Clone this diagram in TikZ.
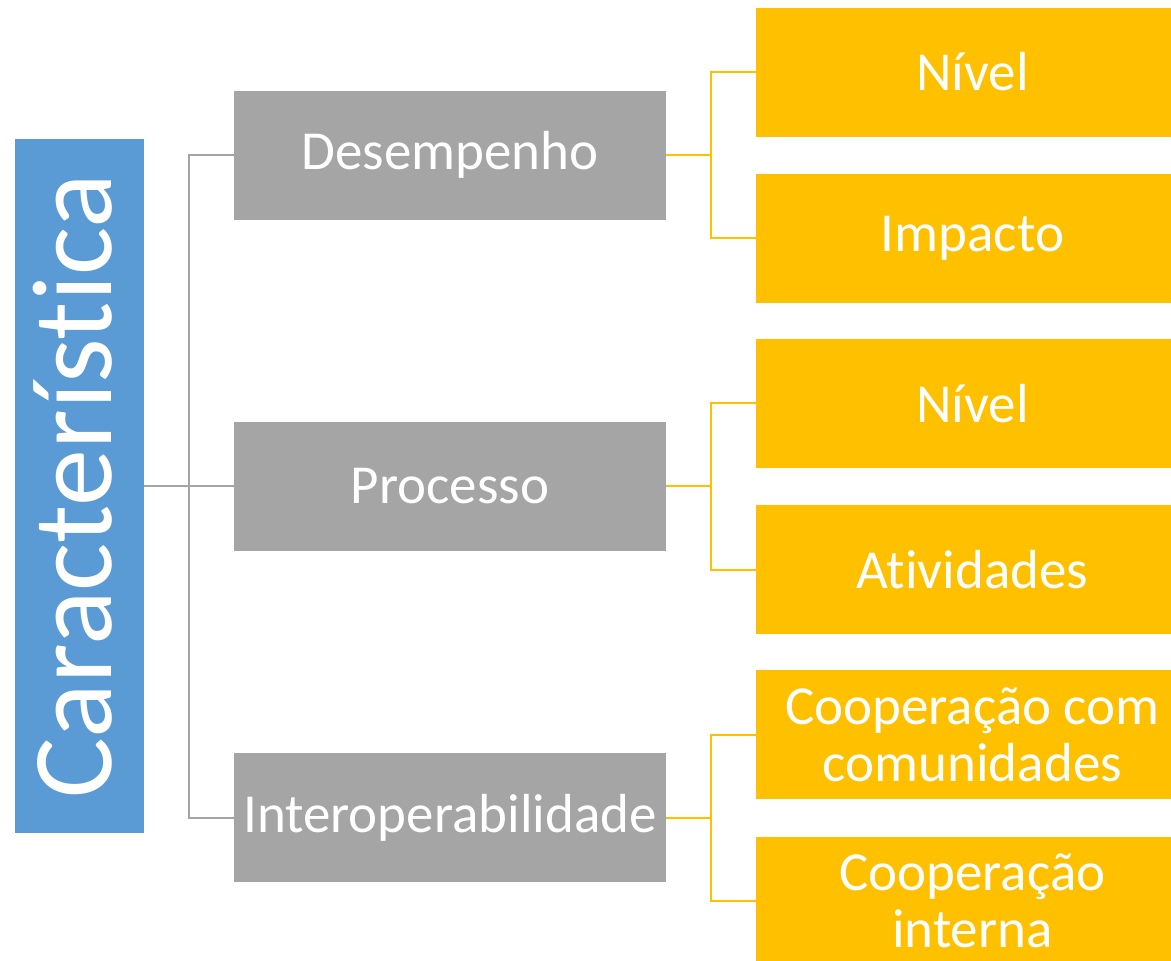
\documentclass[tikz,border=0pt]{standalone}
\usepackage{fontspec}
\setmainfont{Carlito}[Ligatures=NoCommon]
\usetikzlibrary{positioning}
\definecolor{chartblue}{HTML}{5B9BD5}
\definecolor{chartgray}{HTML}{A5A5A5}
\definecolor{chartgold}{HTML}{FFC000}

\begin{document}
\begin{tikzpicture}[
            x=1pt, y=-1pt,
            node distance=37pt and 90pt,
            % Styles
            mainbox/.style={rectangle, fill=chartblue, text=white, inner sep=0pt, minimum width=129pt, minimum height=694pt, font=\fontsize{114}{136}\selectfont},
            topic/.style={rectangle, fill=chartgray, text=white, inner sep=0pt, minimum width=432pt, minimum height=129pt, align=center, font=\fontsize{55}{57}\selectfont},
            leaf/.style={rectangle, fill=chartgold, text=white, inner sep=0pt, minimum width=432pt, minimum height=129pt, align=center, font=\fontsize{55}{57}\selectfont},
            trunk/.style={draw=chartgray, line width=2pt},
            twig/.style={draw=chartgold, line width=2pt}
        ]
        \useasboundingbox (0,0) rectangle (1171,961);

        % --- GROUPS ---
        \node (desemp) [topic] at (450,155) {Desempenho};
        \node (proc) [topic, below=202pt of desemp] {Processo};
        \node (inter) [topic, below=202pt of proc] {Interoperabilidade};

        % --- ROOT ---
        \node (carac) [mainbox, left=of proc] {\rotatebox{90}{\raisebox{-32.5pt}[0pt][0pt]{Característica}}};

        % --- LEAVES ---
        \node (nivelA) [leaf, right=of desemp, yshift=83pt] {Nível};
        \node (impacto) [leaf, below=of nivelA] {Impacto};
        \node (nivelB) [leaf, right=of proc, yshift=83pt] {Nível};
        \node (ativ) [leaf, below=of nivelB] {Atividades};
        \node (coopcom) [leaf, right=of inter, yshift=83pt] {Cooperação com\\comunidades};
        \node (coopint) [leaf, below=of coopcom] {Cooperação\\interna};

        % --- CONNECTIONS ---
        \draw [trunk] (carac.east) -- (proc.west);
        \draw [trunk] (desemp.west) -- ++(-45pt,0) |- (inter.west); % Bracket on the left
        \draw [twig] (desemp.east) -- ++(45pt,0);
        \draw [twig] (nivelA.west) -- ++(-45pt,0) |- (impacto.west);
        \draw [twig] (proc.east) -- ++(45pt,0);
        \draw [twig] (nivelB.west) -- ++(-45pt,0) |- (ativ.west);
        \draw [twig] (inter.east) -- ++(45pt,0);
        \draw [twig] (coopcom.west) -- ++(-45pt,0) |- (coopint.west);

\end{tikzpicture}
\end{document}
